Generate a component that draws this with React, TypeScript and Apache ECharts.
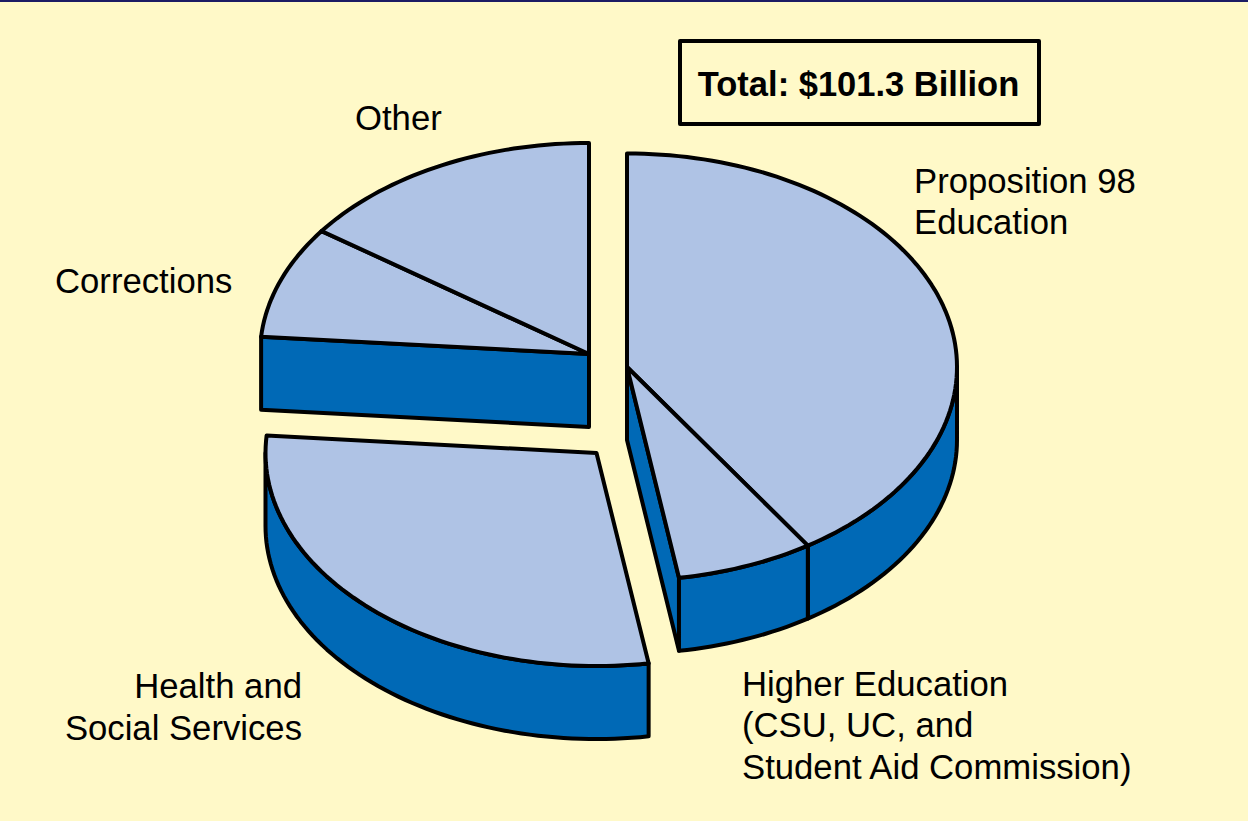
import React, { useEffect, useRef } from "react";
import * as echarts from "echarts";

const categories = [
  "Proposition 98 Education",
  "Higher Education (CSU, UC, and Student Aid Commission)",
  "Health and Social Services",
  "Corrections",
  "Other",
];
const values = [41.3, 6.8, 29.2, 8.7, 15.3];
const explodeGroup = [0, 0, 1, 2, 2];
const totalLabel = "Total: $101.3 Billion";

const groupCentres = [
  [627, 367],
  [596.5, 453],
  [589, 354],
];
const groupRadii = [
  [330, 213.5],
  [331, 213],
  [329, 211],
];
const DEPTH = 73;
const INK = "#000000";
const TOP = "#AFC3E5";
const WALL = "#0069B6";
const BG = "#FFF9C8";
const LINE = 4;
const FONT = '"Liberation Sans", Arial, sans-serif';

const total = values.reduce((a, b) => a + b, 0);
const startAngles: number[] = [];
values.reduce((acc, v, i) => {
  startAngles[i] = acc;
  return acc + (v / total) * 360;
}, 0);

function rim(g: number, deg: number, drop = 0): number[] {
  const c = groupCentres[g];
  const [rx, ry] = groupRadii[g];
  const t = (deg * Math.PI) / 180;
  return [c[0] + rx * Math.sin(t), c[1] - ry * Math.cos(t) + drop];
}
function arc(g: number, a: number, b: number, drop = 0): number[][] {
  const n = Math.max(2, Math.ceil(Math.abs(b - a) / 1.5));
  const pts: number[][] = [];
  for (let i = 0; i <= n; i++) pts.push(rim(g, a + ((b - a) * i) / n, drop));
  return pts;
}

function renderItem(params: any, api: any) {
  const i = params.dataIndex;
  const a1 = startAngles[i];
  const a2 = a1 + (api.value(0) / total) * 360;
  const g = explodeGroup[i];
  const c = groupCentres[g];
  const n = values.length;
  const style = { fill: WALL, stroke: INK, lineWidth: LINE, lineJoin: "round" };
  const children: any[] = [];
  const face = (deg: number) => {
    const r = rim(g, deg);
    children.push({
      type: "polygon",
      shape: { points: [c, r, [r[0], r[1] + DEPTH], [c[0], c[1] + DEPTH]] },
      style,
    });
  };
  if (a1 > 180 && explodeGroup[(i - 1 + n) % n] !== g) face(a1);
  if (a2 < 180 && explodeGroup[(i + 1) % n] !== g) face(a2);
  const w1 = Math.max(a1, 90);
  const w2 = Math.min(a2, 270);
  if (w2 > w1) {
    children.push({
      type: "polygon",
      shape: { points: [...arc(g, w1, w2), ...arc(g, w2, w1, DEPTH)] },
      style,
    });
  }
  children.push({
    type: "polygon",
    shape: { points: [c, ...arc(g, a1, a2)] },
    style: { ...style, fill: TOP },
  });
  return { type: "group", children };
}

function label(text: string, x: number, y: number, align = "left") {
  return {
    type: "text",
    x,
    y,
    style: {
      text,
      fill: INK,
      font: `34.7px ${FONT}`,
      lineHeight: 41.5,
      align,
      verticalAlign: "middle",
    },
  };
}

export default function App() {
  const ref = useRef<HTMLDivElement>(null);
  useEffect(() => {
    const chart = echarts.init(ref.current!, undefined, { renderer: "svg" });
    chart.setOption({
      animation: false,
      backgroundColor: BG,
      series: [
        {
          type: "custom",
          coordinateSystem: "none",
          silent: true,
          data: values.map((v, i) => ({ name: categories[i], value: [v] })),
          renderItem,
        },
      ],
      graphic: [
        { type: "rect", shape: { x: 0, y: 0, width: 1248, height: 2 }, style: { fill: "#1C1C64" } },
        {
          type: "rect",
          shape: { x: 680, y: 41, width: 359, height: 83 },
          style: { fill: "none", stroke: INK, lineWidth: 4, lineJoin: "round" },
        },
        {
          type: "text",
          x: 858.5,
          y: 84,
          style: {
            text: totalLabel,
            fill: INK,
            font: `bold 34.5px ${FONT}`,
            align: "center",
            verticalAlign: "middle",
          },
        },
        label("Other", 355, 118),
        label("Corrections", 55, 281),
        label("Proposition 98\nEducation", 914, 201.5),
        label("Health and\nSocial Services", 302, 707, "right"),
        label("Higher Education\n(CSU, UC, and\nStudent Aid Commission)", 742, 725),
      ],
    });
    return () => chart.dispose();
  }, []);
  return (
    <div
      ref={ref}
      style={{ position: "absolute", left: 0, top: 0, width: 1248, height: 821, background: BG }}
    />
  );
}
